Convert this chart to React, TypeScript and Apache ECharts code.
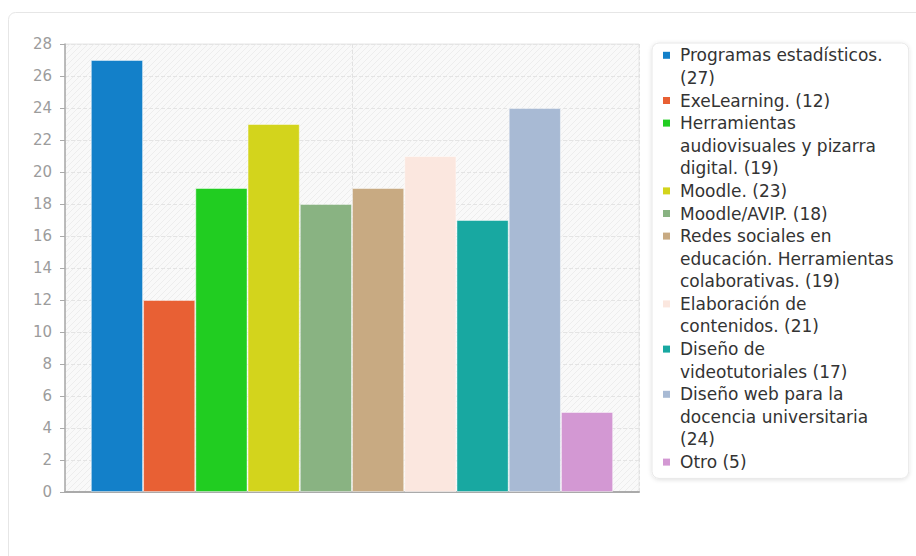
import React, { useEffect, useRef } from "react";
import * as echarts from "echarts";

const names = [
  "Programas estadísticos.",
  "ExeLearning.",
  "Herramientas audiovisuales y pizarra digital.",
  "Moodle.",
  "Moodle/AVIP.",
  "Redes sociales en educación. Herramientas colaborativas.",
  "Elaboración de contenidos.",
  "Diseño de videotutoriales",
  "Diseño web para la docencia universitaria",
  "Otro",
];
const values = [27, 12, 19, 23, 18, 19, 21, 17, 24, 5];
const colors = [
  "#1380c9",
  "#e86034",
  "#21cd21",
  "#d3d41c",
  "#89b382",
  "#c8aa82",
  "#fbe7df",
  "#18a8a1",
  "#a8bad4",
  "#d398d3",
];
const yTicks = { min: 0, max: 28, interval: 2 };

const FONT = "DejaVu Sans";
const LEGEND_FS = 17;
const LEGEND_LH = 22.6;
const LEGEND_MAXW = 215;

function wrapText(text: string, maxW: number): string[] {
  const c = document.createElement("canvas");
  const ctx = c.getContext("2d")!;
  ctx.font = `${LEGEND_FS}px "${FONT}"`;
  const words = text.split(" ");
  const lines: string[] = [];
  let cur = "";
  for (const w of words) {
    const test = cur ? cur + " " + w : w;
    if (cur && ctx.measureText(test).width > maxW) {
      lines.push(cur);
      cur = w;
    } else {
      cur = test;
    }
  }
  if (cur) lines.push(cur);
  return lines;
}

function makeHatch(): string {
  const c = document.createElement("canvas");
  c.width = 6;
  c.height = 6;
  const ctx = c.getContext("2d")!;
  ctx.fillStyle = "#f9f9f9";
  ctx.fillRect(0, 0, 6, 6);
  ctx.strokeStyle = "#ededed";
  ctx.lineWidth = 1;
  ctx.beginPath();
  ctx.moveTo(-1, 7);
  ctx.lineTo(7, -1);
  ctx.moveTo(-1, 1);
  ctx.lineTo(1, -1);
  ctx.moveTo(5, 7);
  ctx.lineTo(7, 5);
  ctx.stroke();
  return c.toDataURL();
}

export default function App() {
  const ref = useRef<HTMLDivElement>(null);
  useEffect(() => {
    if (!ref.current) return;
    const chart = echarts.init(ref.current, undefined, { renderer: "svg" });

    const rich: Record<string, any> = {
      t: {
        fontSize: LEGEND_FS,
        lineHeight: LEGEND_LH,
        color: "#333",
        fontFamily: FONT,
        padding: [0, 0, 0, 10],
      },
      s: { width: 7, height: 7, lineHeight: LEGEND_LH },
    };
    colors.forEach((col, i) => {
      rich["c" + i] = {
        width: 7,
        height: 7,
        backgroundColor: col,
        verticalAlign: "middle",
        lineHeight: LEGEND_LH,
      };
    });

    const series = names.map((n, i) => ({
      type: "bar",
      name: n,
      data: [values[i]],
      barGap: "0%",
      barCategoryGap: "9%",
      itemStyle: {
        color: colors[i],
        borderColor: "rgba(255,255,255,0.45)",
        borderWidth: 1,
      },
      emphasis: { disabled: true },
    }));

    chart.setOption({
      animation: false,
      textStyle: { fontFamily: FONT },
      graphic: [
        {
          type: "rect",
          z: -10,
          silent: true,
          shape: { x: 8.5, y: 12.5, width: 940, height: 600, r: 7 },
          style: { fill: "none", stroke: "#e6e6e6", lineWidth: 1 },
        },
      ],
      grid: {
        left: 65,
        top: 44,
        width: 574,
        height: 448,
        show: true,
        borderColor: "#e6e6e6",
        borderWidth: 1,
        backgroundColor: { image: makeHatch(), repeat: "repeat" },
      },
      legend: {
        orient: "vertical",
        left: 652,
        top: 43,
        itemWidth: 0,
        itemHeight: 0,
        itemGap: 0,
        itemTextGap: 0,
        selectedMode: false,
        padding: [1, 15, 5, 5],
        backgroundColor: "#fff",
        borderColor: "#e8e8e8",
        borderWidth: 1,
        borderRadius: 7,
        shadowBlur: 4,
        shadowColor: "rgba(0,0,0,0.12)",
        shadowOffsetY: 1,
        data: names,
        formatter: (name: string) => {
          const i = names.indexOf(name);
          const lines = wrapText(`${name} (${values[i]})`, LEGEND_MAXW);
          return lines
            .map((l, k) => (k === 0 ? `{c${i}| }{t|${l}}` : `{s| }{t|${l}}`))
            .join("\n");
        },
        textStyle: { rich, fontSize: LEGEND_FS, lineHeight: LEGEND_LH },
      },
      xAxis: [
        {
          type: "category",
          data: [""],
          axisLine: { lineStyle: { color: "#aaaaaa", width: 2 } },
          axisTick: { show: false },
          axisLabel: { show: false },
          splitLine: { show: false },
        },
        {
          type: "value",
          min: 0,
          max: 2,
          interval: 1,
          axisLine: { show: false },
          axisTick: { show: false },
          axisLabel: { show: false },
          splitLine: {
            show: true,
            lineStyle: { type: "dashed", color: "#e2e2e2", width: 1 },
          },
        },
      ],
      yAxis: {
        type: "value",
        min: yTicks.min,
        max: yTicks.max,
        interval: yTicks.interval,
        axisLine: { show: true, lineStyle: { color: "#aaaaaa", width: 1.5 } },
        axisTick: { show: true, length: 5, lineStyle: { color: "#aaaaaa" } },
        axisLabel: { color: "#9c9c9c", fontSize: 15, margin: 13, fontFamily: FONT },
        splitLine: {
          show: true,
          lineStyle: { type: "dashed", color: "#e4e4e4", width: 1 },
        },
      },
      series,
    });
    return () => chart.dispose();
  }, []);
  return (
    <div
      ref={ref}
      style={{ position: "absolute", left: 0, top: 0, width: 916, height: 556 }}
    />
  );
}
